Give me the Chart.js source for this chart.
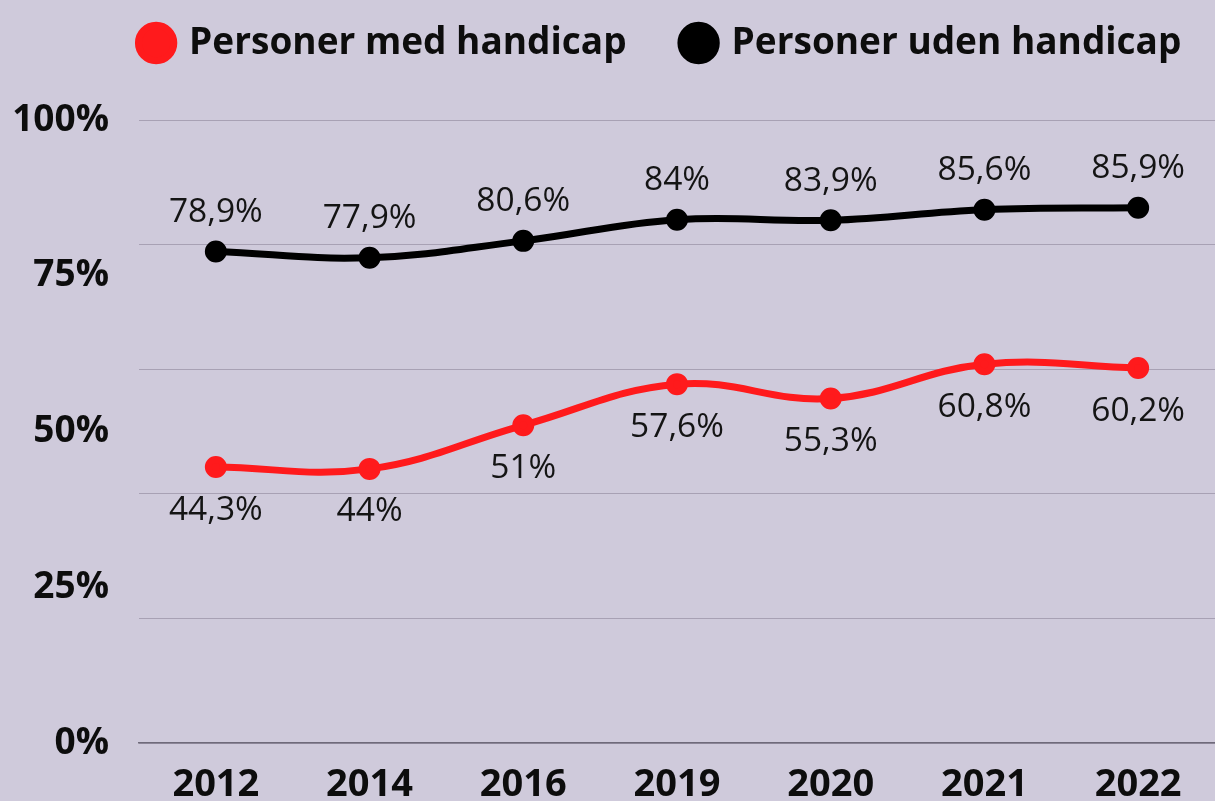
<!DOCTYPE html>
<html>
<head>
<meta charset="utf-8">
<script src="https://cdn.jsdelivr.net/npm/chart.js@4.4.1/dist/chart.umd.min.js"></script>
<style>
  html, body { margin: 0; padding: 0; background: #cfcadb; overflow: hidden; }
  #wrap { width: 1215px; height: 820px; position: relative; }
</style>
</head>
<body>
<div id="wrap"><canvas id="chart"></canvas></div>
<script>
const years = ["2012", "2014", "2016", "2019", "2020", "2021", "2022"];
const medHandicap = [44.3, 44, 51, 57.6, 55.3, 60.8, 60.2];
const udenHandicap = [78.9, 77.9, 80.6, 84, 83.9, 85.6, 85.9];
const yTicks = [0, 20, 25, 40, 50, 60, 75, 80, 100];

const fontFamily = "'Open Sans', 'Noto Sans', sans-serif";
const legendShift = { x: 54, y: -48.5 };

const valueLabels = {
  id: "valueLabels",
  afterDatasetsDraw(chart) {
    const { ctx } = chart;
    chart.data.datasets.forEach((dataset, i) => {
      const meta = chart.getDatasetMeta(i);
      const dy = i === 0 ? 43 : -39;
      meta.data.forEach((pt, index) => {
        const value = dataset.data[index];
        ctx.save();
        ctx.font = "33.5px " + fontFamily;
        ctx.fillStyle = "#141414";
        ctx.textAlign = "center";
        ctx.textBaseline = "middle";
        ctx.fillText(String(value).replace(".", ",") + "%", pt.x, pt.y + dy);
        ctx.restore();
      });
    });
  }
};

// move the legend up/right without touching the chart area
const legendMove = {
  id: "legendMove",
  afterLayout(chart) {
    const lg = chart.legend;
    if (!lg) return;
    lg.left += legendShift.x;
    lg.right += legendShift.x;
    lg.top += legendShift.y;
    lg.bottom += legendShift.y;
  }
};

new Chart(document.getElementById("chart"), {
  type: "line",
  data: {
    labels: years,
    datasets: [
      {
        label: "Personer med handicap",
        data: medHandicap,
        borderColor: "#ff1a1c",
        backgroundColor: "#ff1a1c",
        borderWidth: 7,
        pointRadius: 7.5,
        pointHoverRadius: 7.5,
        tension: 0.4
      },
      {
        label: "Personer uden handicap",
        data: udenHandicap,
        borderColor: "#000000",
        backgroundColor: "#000000",
        borderWidth: 7,
        pointRadius: 7.5,
        pointHoverRadius: 7.5,
        tension: 0.4
      }
    ]
  },
  options: {
    responsive: true,
    maintainAspectRatio: false,
    animation: false,
    layout: { autoPadding: false, padding: { top: 15.5, left: 0, right: 0, bottom: 0 } },
    plugins: {
      legend: {
        display: true,
        position: "top",
        align: "center",
        labels: {
          usePointStyle: true,
          pointStyle: "circle",
          boxWidth: 29,
          boxHeight: 25,
          padding: 57.5,
          color: "#0d0d0d",
          font: { family: fontFamily, size: 37, weight: "bold" }
        }
      },
      tooltip: { enabled: false }
    },
    scales: {
      x: {
        offset: true,
        grid: { display: false },
        border: { display: true, color: "#6f6a7a", width: 1.5 },
        ticks: {
          color: "#0d0d0d",
          padding: 11,
          font: { family: fontFamily, size: 38, weight: "bold" }
        },
        afterFit(scale) {
          scale.height = 77;
          scale.paddingLeft = 0;
          scale.paddingRight = 0;
        }
      },
      y: {
        min: 0,
        max: 100,
        afterBuildTicks(scale) {
          scale.ticks = yTicks.map(v => ({ value: v }));
        },
        grid: {
          drawTicks: false,
          color: ctx => (ctx.tick && ctx.tick.value % 20 === 0) ? "#a8a1b4" : "rgba(0,0,0,0)",
          lineWidth: 1
        },
        border: { display: false },
        ticks: {
          color: "#0d0d0d",
          padding: 30,
          autoSkip: false,
          font: { family: fontFamily, size: 37, weight: "bold" },
          callback: v => (v % 25 === 0 ? v + "%" : "")
        },
        afterFit(scale) { scale.width = 139; }
      }
    }
  },
  plugins: [valueLabels, legendMove]
});
</script>
</body>
</html>
